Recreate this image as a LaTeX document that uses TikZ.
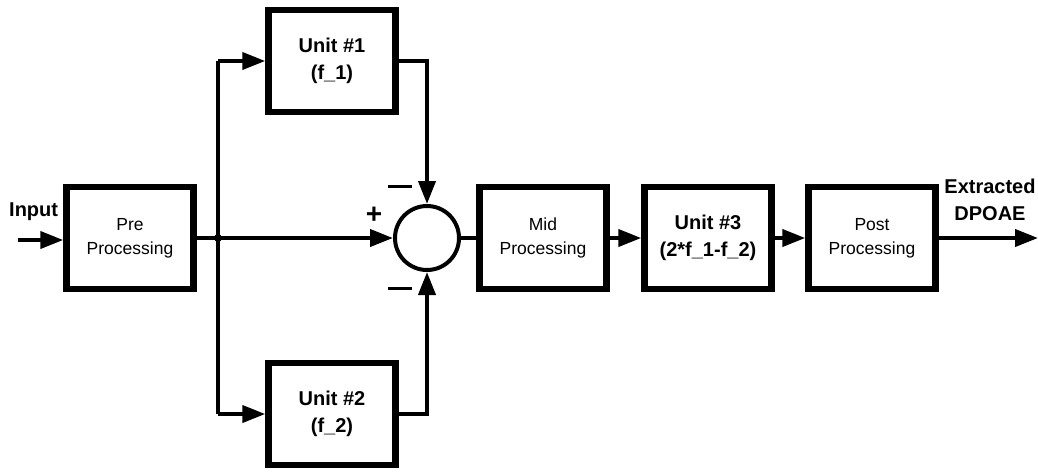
\documentclass[tikz,border=0pt]{standalone}
\usepackage{fontspec}
\setmainfont{Liberation Sans}
\usetikzlibrary{arrows.meta}
\begin{document}
\begin{tikzpicture}[x=1pt,y=-1pt,
  blk/.style={draw, line width=6.5pt, minimum width=127pt, minimum height=102pt, inner sep=0pt, align=center},
  smalltxt/.style={font=\fontsize{17.5}{24}\selectfont},
  bigtxt/.style={font=\bfseries\fontsize{20}{27}\selectfont},
  wire/.style={line width=4pt},
  arr/.style={wire, -{Triangle[length=23pt,width=17pt]}},
  sumc/.style={draw, circle, line width=4pt, minimum size=64pt, inner sep=0pt},
  sign/.style={font=\bfseries\fontsize{28}{28}\selectfont, inner sep=0pt}
]
\useasboundingbox (0,0) rectangle (1038,472);
\node[blk, smalltxt] (pre) at (130,238) {Pre\\Processing};
\node[blk, bigtxt] (u1) at (332,61) {Unit \#1\\(f\_1)};
\node[blk, bigtxt] (u2) at (332,414) {Unit \#2\\(f\_2)};
\node[sumc] (sum) at (427,238) {};
\node[blk, smalltxt] (mid) at (543,238) {Mid\\Processing};
\node[blk, bigtxt] (u3) at (708,238) {Unit \#3\\(2*f\_1-f\_2)};
\node[blk, smalltxt] (post) at (872,238) {Post\\Processing};
\node[bigtxt, anchor=west, inner sep=0pt] (inp) at (9,212) {Input};
\node[bigtxt, align=center, inner sep=0pt] (ext) at (990,200) {Extracted\\DPOAE};
\coordinate (in0) at (18,240);
\coordinate (out0) at (1038,238);
\coordinate (j) at (218,238);
\coordinate (ja) at (218,61);
\coordinate (jb) at (218,414);
\fill (j) circle (4pt);
\draw[arr] (in0) -- (pre.west |- in0);
\draw[wire] (pre.east |- j) -- (j);
\draw[arr] (j) -- (sum.west);
\draw[wire] (jb) -- (ja);
\draw[arr] (ja) -- (u1.west);
\draw[arr] (jb) -- (u2.west);
\draw[arr] (u1.east) -| (sum.north);
\draw[arr] (u2.east) -| (sum.south);
\draw[wire] (sum.east) -- (mid.west);
\draw[arr] (mid.east) -- (u3.west);
\draw[arr] (u3.east) -- (post.west);
\draw[arr] (post.east) -- (out0);
\node[sign] (pl) at (374,215) {+};
\node[inner sep=0pt] (m1) at (400,186) {\rule{24pt}{3pt}};
\node[inner sep=0pt] (m2) at (400,288) {\rule{24pt}{3pt}};
\end{tikzpicture}
\end{document}
